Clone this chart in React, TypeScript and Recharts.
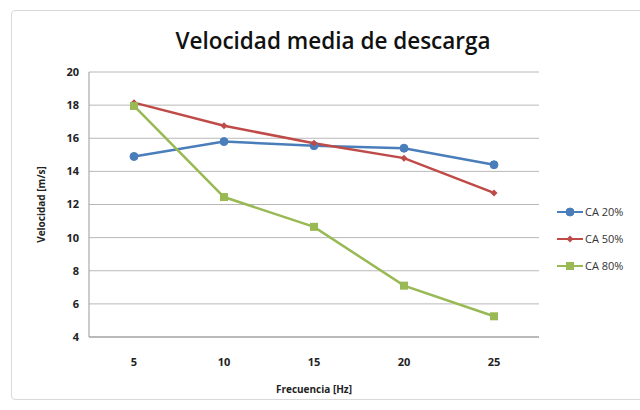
import { CartesianGrid, Label, Line, LineChart, XAxis, YAxis } from "recharts";

const frequencies = [5, 10, 15, 20, 25];
const ca20 = [14.9, 15.8, 15.55, 15.4, 14.4];
const ca50 = [18.15, 16.75, 15.7, 14.8, 12.7];
const ca80 = [17.95, 12.45, 10.65, 7.1, 5.25];
const yTicks = [4, 6, 8, 10, 12, 14, 16, 18, 20];

const data = frequencies.map((f, i) => ({ f, ca20: ca20[i], ca50: ca50[i], ca80: ca80[i] }));

const SERIES = [
  { key: "ca20", name: "CA 20%", color: "#4a7ebb", marker: "circle" },
  { key: "ca50", name: "CA 50%", color: "#be4b48", marker: "diamond" },
  { key: "ca80", name: "CA 80%", color: "#98b954", marker: "square" },
];

const FONT = "'Open Sans', 'Liberation Sans', sans-serif";

function Marker({ cx, cy, color, marker }: { cx: number; cy: number; color: string; marker: string }) {
  if (marker === "circle") return <circle cx={cx} cy={cy} r={4} fill={color} stroke={color} />;
  if (marker === "square") return <rect x={cx - 4} y={cy - 4} width={8} height={8} fill={color} />;
  return (
    <path d={`M${cx},${cy - 3.5} L${cx + 3.5},${cy} L${cx},${cy + 3.5} L${cx - 3.5},${cy} Z`} fill={color} />
  );
}

function makeDot(color: string, marker: string) {
  return (props: any) => <Marker key={props.index} cx={props.cx} cy={props.cy} color={color} marker={marker} />;
}

function ChartLegend() {
  return (
    <div style={{ position: "absolute", left: 557, top: 198, fontFamily: FONT, fontSize: 11, color: "#333" }}>
      {SERIES.map((s) => (
        <div key={s.key} style={{ display: "flex", alignItems: "center", height: 27 }}>
          <svg width={26} height={10}>
            <line x1={0} y1={5} x2={26} y2={5} stroke={s.color} strokeWidth={2} />
            <Marker cx={13} cy={5} color={s.color} marker={s.marker} />
          </svg>
          <span style={{ marginLeft: 2 }}>{s.name}</span>
        </div>
      ))}
    </div>
  );
}

export default function App() {
  return (
    <div style={{ position: "absolute", left: 0, top: 0, width: 640, height: 410, background: "#fff" }}>
      <div
        style={{
          position: "absolute",
          left: 11,
          top: 10,
          width: 640,
          height: 388,
          border: "1px solid #d9d9d9",
          borderRadius: 4,
        }}
      />
      <div
        style={{
          position: "absolute",
          left: 0,
          top: 25,
          width: 666,
          textAlign: "center",
          fontFamily: FONT,
          fontSize: 22.5,
          fontWeight: 600,
          color: "#111",
        }}
      >
        Velocidad media de descarga
      </div>
      <LineChart
        width={640}
        height={410}
        data={data}
        margin={{ top: 72, right: 101, bottom: 43, left: 0 }}
        style={{ position: "absolute", left: 0, top: 0 }}
      >
        <CartesianGrid horizontal vertical={false} stroke="#b8b8b8" />
        <XAxis
          dataKey="f"
          type="number"
          domain={[2.5, 27.5]}
          ticks={frequencies}
          tickLine={false}
          axisLine={{ stroke: "#999" }}
          tickMargin={15}
          tick={{ fontFamily: FONT, fontSize: 11, fontWeight: 700, fill: "#222" }}
        >
          <Label
            value="Frecuencia [Hz]"
            position="bottom"
            offset={19}
            style={{ fontFamily: FONT, fontSize: 10, fontWeight: 700, fill: "#222" }}
          />
        </XAxis>
        <YAxis
          width={89}
          domain={[4, 20]}
          ticks={yTicks}
          tickLine={false}
          axisLine={{ stroke: "#999" }}
          tickMargin={4}
          tick={{ fontFamily: FONT, fontSize: 11, fontWeight: 700, fill: "#222" }}
        >
          <Label
            value="Velocidad [m/s]"
            angle={-90}
            position="insideLeft"
            offset={41}
            style={{ textAnchor: "middle", fontFamily: FONT, fontSize: 10, fontWeight: 700, fill: "#222" }}
          />
        </YAxis>
        {SERIES.map((s) => (
          <Line
            key={s.key}
            dataKey={s.key}
            name={s.name}
            stroke={s.color}
            strokeWidth={2.5}
            dot={makeDot(s.color, s.marker)}
            activeDot={false}
            isAnimationActive={false}
          />
        ))}
      </LineChart>
      <ChartLegend />
    </div>
  );
}
